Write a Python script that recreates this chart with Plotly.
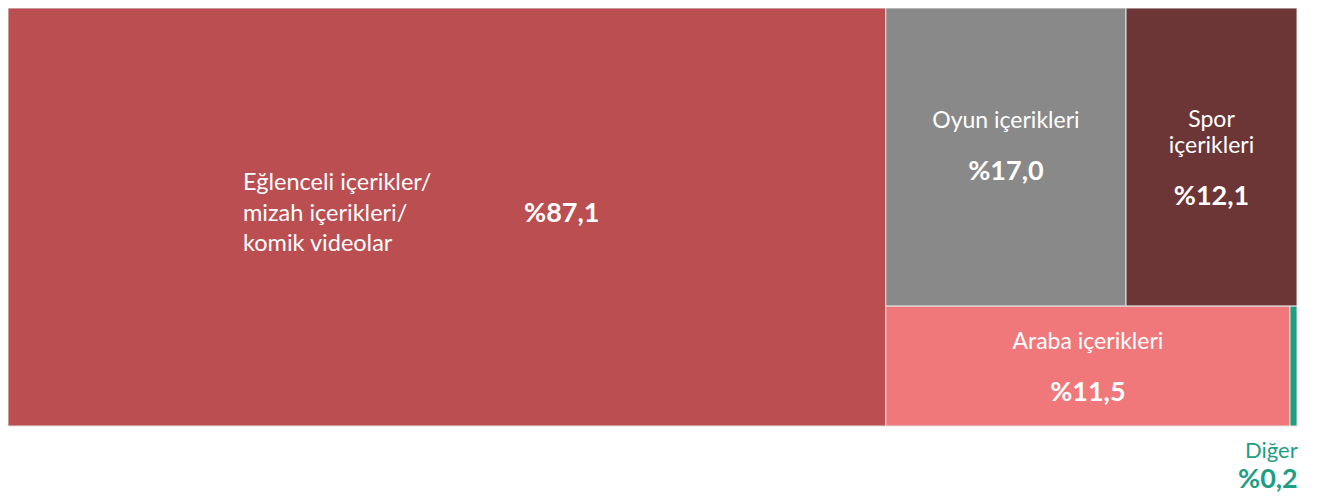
import plotly.graph_objects as go

labels = ["Eğlenceli içerikler/ mizah içerikleri/ komik videolar", "Oyun içerikleri",
          "Spor içerikleri", "Araba içerikleri", "Diğer"]
display_labels = ["Eğlenceli içerikler/<br>mizah içerikleri/<br>komik videolar",
                  "Oyun içerikleri", "Spor<br>içerikleri", "Araba içerikleri", "Diğer"]
values = [87.1, 17.0, 12.1, 11.5, 0.2]
value_text = ["%87,1", "%17,0", "%12,1", "%11,5", "%0,2"]
colors = ["#BA4E50", "#898989", "#6C3637", "#F0787B", "#1E9E82"]

FONT = "Lato"
VAL = '<span style="font-size:27px"><b>{}</b></span>'
LAB = '<span style="font-size:23px">{}</span>'

templates = []
for i, (lab, vt) in enumerate(zip(display_labels, value_text)):
    if i == 0 or i == len(labels) - 1:
        templates.append("")  # drawn as annotations (custom layout)
    else:
        parts = "<br>".join(LAB.format(p) for p in lab.split("<br>"))
        t = parts + "<br><br>" + VAL.format(vt)
        if i == 1:
            t += "<br> "
        templates.append(t)

fig = go.Figure(go.Treemap(
    labels=labels,
    parents=[""] * len(labels),
    values=values,
    sort=True,
    tiling=dict(packing="squarify", pad=0),
    marker=dict(colors=colors, line=dict(color="#E2E2E2", width=1),
                pad=dict(t=0, l=0, r=0, b=0)),
    texttemplate=templates,
    textposition="middle center",
    textfont=dict(family=FONT, size=20, color="white"),
    pathbar=dict(visible=False),
    hoverinfo="skip",
    root=dict(color="white"),
))

annotations = [
    dict(x=0.1808, y=0.514, xref="paper", yref="paper", xanchor="left", yanchor="middle",
         align="left", showarrow=False,
         text=display_labels[0], font=dict(family=FONT, size=23.5, color="white")),
    dict(x=0.3988, y=0.514, xref="paper", yref="paper", xanchor="left", yanchor="middle",
         showarrow=False, text="<b>" + value_text[0] + "</b>",
         font=dict(family=FONT, size=27, color="white")),
    dict(x=1.0023, y=-0.057, xref="paper", yref="paper", xanchor="right", yanchor="middle",
         showarrow=False, text=labels[4], font=dict(family=FONT, size=22, color=colors[4])),
    dict(x=1.0023, y=-0.124, xref="paper", yref="paper", xanchor="right", yanchor="middle",
         showarrow=False, text="<b>" + value_text[4] + "</b>",
         font=dict(family=FONT, size=27, color=colors[4])),
]

fig.update_layout(
    width=1318, height=489,
    margin=dict(l=0, r=29, t=0, b=71),
    paper_bgcolor="white",
    plot_bgcolor="white",
    annotations=annotations,
    showlegend=False,
)

fig.write_html("out.html")
